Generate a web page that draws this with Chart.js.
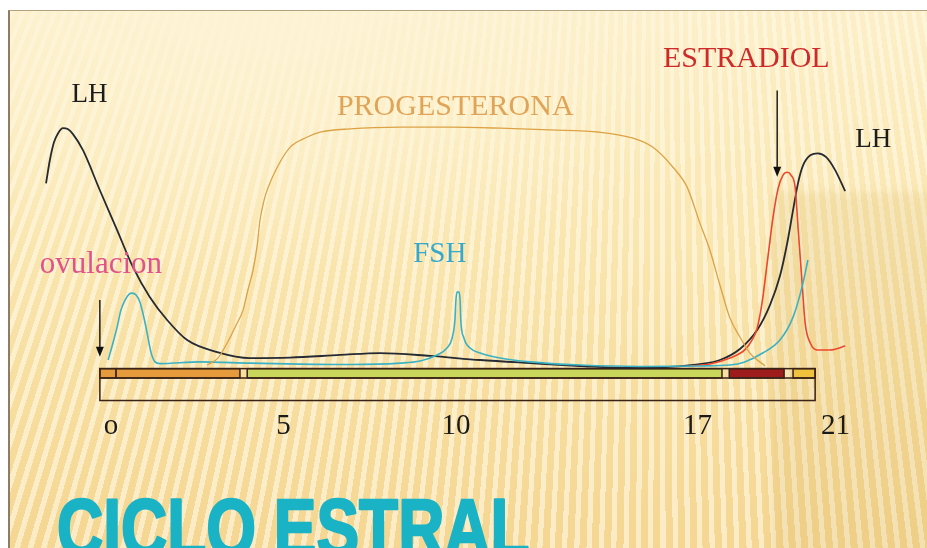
<!DOCTYPE html>
<html>
<head>
<meta charset="utf-8">
<script src="https://cdn.jsdelivr.net/npm/chart.js@4/dist/chart.umd.min.js"></script>
<style>
  html, body { margin: 0; padding: 0; background: #fff; }
  #wrap { position: relative; width: 927px; height: 548px; overflow: hidden; background: #fff; }
  #slide {
    position: absolute; left: 8px; top: 10px; right: 0; bottom: 0;
    border-top: 1px solid #b4a27e; border-left: 2px solid #8d7d62;
    background:
      radial-gradient(ellipse 520px 260px at 28% 0%, rgba(253,243,212,0.95) 0%, rgba(253,243,212,0) 100%),
      repeating-conic-gradient(from 0deg at 650px -1600px, rgba(255,250,232,0.6) 0deg 0.14deg, rgba(255,250,232,0) 0.14deg 0.33deg),
      linear-gradient(180deg, #fcefc8 0%, #fae8b4 35%, #f7dea0 70%, #f5d692 100%);
  }
  #shade {
    position: absolute; left: 772px; top: 192px; width: 220px; height: 420px;
    background: rgba(200,155,55,0.13); filter: blur(5px);
  }
  canvas { position: absolute; left: 0; top: 0; }
</style>
</head>
<body>
<div id="wrap">
  <div id="slide"></div>
  <div id="shade"></div>
  <canvas id="c" width="927" height="548"></canvas>
</div>
<script>
// Hormone levels over the oestrous cycle (day, relative level)
const lhDays = [-1.88,-1.77,-1.65,-1.53,-1.39,-1.24,-1.10,-0.81,-0.32,0.18,0.64,1.13,1.63,2.21,3.08,4.03,5.19,6.64,7.80,9.25,10.70,12.15,13.60,15.04,16.20,17.07,17.65,18.23,18.73,19.10,19.39,19.60,19.77,19.92,20.06,20.27,20.49,20.73,20.99,21.28];
const lhLevels = [77.3,86.9,94.4,98.2,100.3,99.8,97.8,91.1,74.4,57.8,42.3,29.8,20.3,11.9,6.9,4.4,4.6,5.7,6.5,5.3,3.6,2.3,1.1,0.3,0.7,1.9,3.6,8.2,16.1,26.5,38.6,52.3,66.1,77.8,84.8,89.0,89.8,88.2,82.8,74.0];

const progDays = [2.79,3.10,3.37,3.63,3.83,3.97,4.12,4.24,4.32,4.44,4.55,4.82,5.19,5.68,6.06,6.93,8.38,9.83,11.28,12.73,14.17,15.13,15.71,16.29,16.70,17.07,17.36,17.65,17.94,18.23,18.52,18.96];
const progLevels = [1.5,4.4,10.7,18.2,24.4,32.8,41.1,51.5,61.9,70.3,75.3,84.0,92.3,96.5,98.6,100.0,100.7,100.7,100.3,99.6,98.6,96.1,92.3,84.0,75.7,60.7,49.4,34.9,21.1,13.2,6.5,1.1];

const fshDays = [-0.08,0.06,0.18,0.29,0.41,0.53,0.61,0.73,0.84,0.96,1.05,1.16,1.28,1.42,2.58,4.03,5.48,6.93,8.38,8.96,9.45,9.74,9.89,9.97,10.00,10.03,10.09,10.12,10.14,10.23,10.41,10.70,11.28,12.15,13.60,15.33,17.07,17.94,18.37,18.89,19.39,19.77,20.03,20.20];
const fshLevels = [3.6,10.7,17.3,24.4,28.6,31.1,31.5,30.7,27.8,21.1,14.8,6.9,2.8,2.1,2.8,2.3,1.9,1.7,2.3,3.2,5.7,8.6,12.8,20.3,28.6,31.9,31.9,28.6,20.3,12.8,8.6,6.5,4.4,2.8,1.5,0.9,1.1,1.5,2.8,6.5,11.9,21.5,34.0,45.3];

const e2Days = [16.79,17.36,17.94,18.37,18.58,18.73,18.87,19.02,19.19,19.34,19.48,19.60,19.71,19.83,19.92,20.03,20.12,20.27,20.47,20.84,21.28];
const e2Levels = [1.1,1.9,4.4,7.8,11.9,16.9,27.3,44.0,63.2,75.3,80.7,81.9,80.7,75.7,57.8,36.1,19.0,10.7,7.8,7.8,9.4];

// Day axis
const tickDays = [0, 5, 10, 17, 21];
const tickLabels = ['o', '5', '10', '17', '21'];

// Cycle phases drawn as a strip under the curves (start/end day)
const phaseStart = [-0.32, 0.15, 3.95, 17.92, 19.77];
const phaseEnd   = [0.15, 3.74, 17.71, 19.51, 20.41];
const phaseColors = ['#e59a3c', '#e59a3c', '#c8d65c', '#9e1c1c', '#f0c23e'];

const toPoints = (xs, ys) => xs.map((d, i) => ({ x: d, y: ys[i] }));

const textNotes = [
  { text: 'LH',           x: -1.14, y: 111.1, color: '#1c1c1c', size: 27 },
  { text: 'PROGESTERONA', x: 6.55,  y: 105.7, color: '#e0a458', size: 30 },
  { text: 'ESTRADIOL',    x: 16.0,  y: 125.7, color: '#cf2a2a', size: 30 },
  { text: 'LH',           x: 21.57, y: 92.3,  color: '#1c1c1c', size: 27 },
  { text: 'FSH',          x: 8.76,  y: 44.4,  color: '#36a9cb', size: 29 },
  { text: 'ovulacion',    x: -2.06, y: 39.8,  color: '#e2528a', size: 31 }
];
const arrowNotes = [
  { x: -0.32, from: 28.6, to: 5.0 },
  { x: 19.31, from: 116.0, to: 80.0 }
];

const decor = {
  id: 'decor',
  beforeDatasetsDraw(chart) {
    const { ctx, scales: { x, y } } = chart;
    const top = y.getPixelForValue(0);
    const mid = y.getPixelForValue(-3.9);
    const bot = y.getPixelForValue(-13.3);
    const l = x.getPixelForValue(phaseStart[0]);
    const r = x.getPixelForValue(phaseEnd[phaseEnd.length - 1]);
    ctx.save();
    ctx.strokeStyle = '#3a2216';
    ctx.lineWidth = 1.5;
    phaseStart.forEach((s, i) => {
      const a = x.getPixelForValue(s), b = x.getPixelForValue(phaseEnd[i]);
      ctx.fillStyle = phaseColors[i];
      ctx.fillRect(a, top, b - a, mid - top);
      ctx.strokeRect(a, top, b - a, mid - top);
    });
    ctx.strokeRect(l, top, r - l, bot - top);
    ctx.beginPath();
    ctx.moveTo(l, mid); ctx.lineTo(r, mid);
    ctx.stroke();
    ctx.restore();
  },
  afterDatasetsDraw(chart) {
    const { ctx, scales: { x, y } } = chart;
    ctx.save();
    // arrows
    ctx.strokeStyle = '#111';
    ctx.fillStyle = '#111';
    ctx.lineWidth = 1.4;
    arrowNotes.forEach(a => {
      const px = x.getPixelForValue(a.x);
      const y1 = y.getPixelForValue(a.from), y2 = y.getPixelForValue(a.to);
      ctx.beginPath();
      ctx.moveTo(px, y1); ctx.lineTo(px, y2 - 8);
      ctx.stroke();
      ctx.beginPath();
      ctx.moveTo(px - 4, y2 - 10); ctx.lineTo(px + 4, y2 - 10); ctx.lineTo(px, y2);
      ctx.closePath();
      ctx.fill();
    });
    // hormone names
    ctx.textAlign = 'left';
    ctx.textBaseline = 'alphabetic';
    textNotes.forEach(n => {
      ctx.font = n.size + 'px "Liberation Serif", "DejaVu Serif", serif';
      ctx.fillStyle = n.color;
      ctx.fillText(n.text, x.getPixelForValue(n.x), y.getPixelForValue(n.y));
    });
    // day labels under the strip
    ctx.textAlign = 'center';
    ctx.font = '29px "Liberation Serif", "DejaVu Serif", serif';
    ctx.fillStyle = '#1a1a1a';
    const base = y.getPixelForValue(-13.3) + 33;
    tickDays.forEach((d, i) => {
      ctx.fillText(tickLabels[i], x.getPixelForValue(d), base);
    });
    ctx.restore();
  },
  afterDraw(chart) {
    const { ctx } = chart;
    ctx.save();
    ctx.translate(57, 556);
    ctx.scale(0.78, 1);
    ctx.font = 'bold 82px "Liberation Sans", Arial, sans-serif';
    ctx.fillStyle = '#1ab3c6';
    ctx.strokeStyle = '#1ab3c6';
    ctx.lineWidth = 2.5;
    ctx.lineJoin = 'round';
    ctx.textAlign = 'left';
    ctx.fillText('CICLO ESTRAL', 0, 0);
    ctx.strokeText('CICLO ESTRAL', 0, 0);
    ctx.restore();
  }
};

const lineStyle = { pointRadius: 0, cubicInterpolationMode: 'monotone', fill: false };

new Chart(document.getElementById('c'), {
  type: 'line',
  data: {
    datasets: [
      { label: 'PROGESTERONA', data: toPoints(progDays, progLevels), borderColor: '#dca245', borderWidth: 1.3, ...lineStyle },
      { label: 'FSH', data: toPoints(fshDays, fshLevels), borderColor: '#3bb2c4', borderWidth: 1.6, ...lineStyle },
      { label: 'ESTRADIOL', data: toPoints(e2Days, e2Levels), borderColor: '#ec472c', borderWidth: 1.6, ...lineStyle },
      { label: 'LH', data: toPoints(lhDays, lhLevels), borderColor: '#252a33', borderWidth: 1.8, ...lineStyle }
    ]
  },
  options: {
    responsive: false,
    animation: false,
    devicePixelRatio: 1,
    layout: { padding: { left: 35, right: 57, top: 9, bottom: 147 } },
    plugins: { legend: { display: false }, tooltip: { enabled: false } },
    scales: {
      x: { type: 'linear', min: -2.2, max: 22, display: false },
      y: { type: 'linear', min: -13.5, max: 150, display: false }
    }
  },
  plugins: [decor]
});
</script>
</body>
</html>
